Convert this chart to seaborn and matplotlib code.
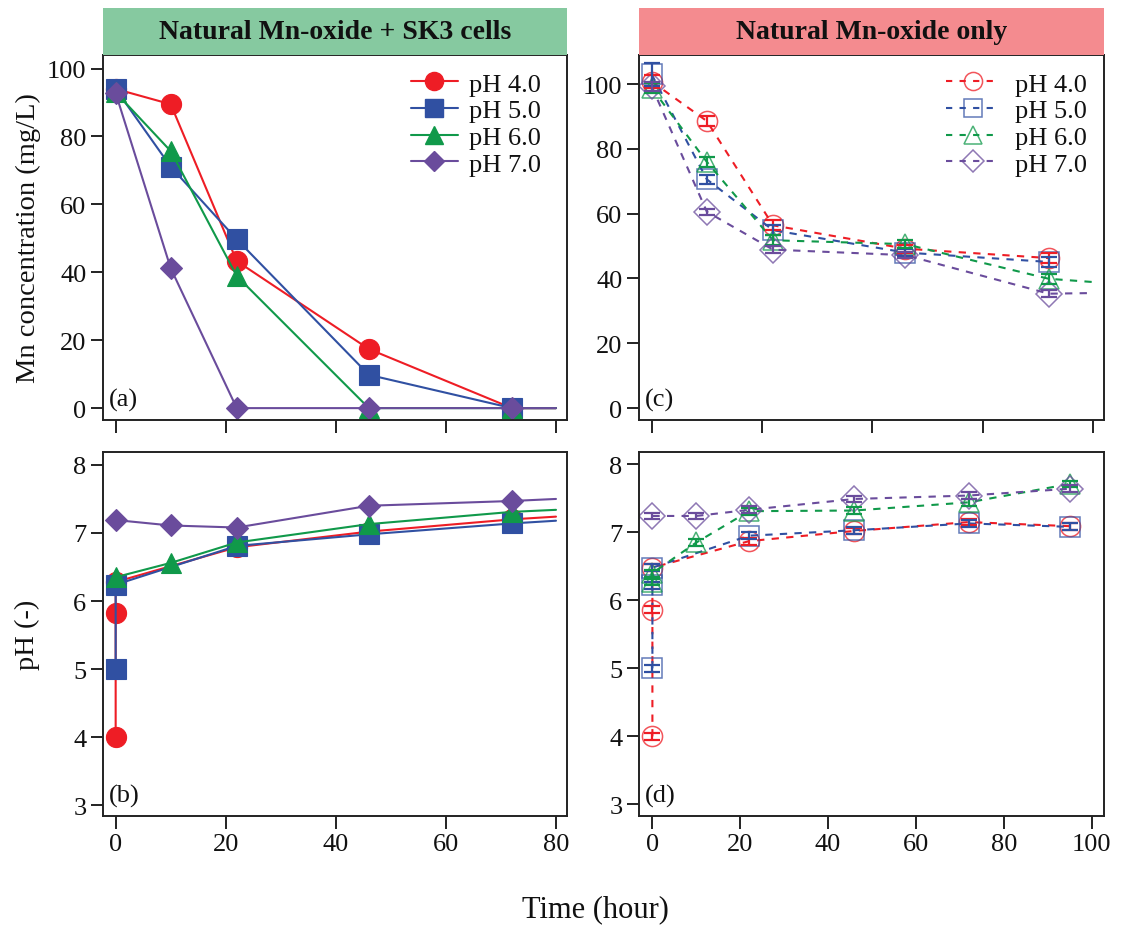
import matplotlib
matplotlib.use("Agg")
import matplotlib.pyplot as plt
from matplotlib.lines import Line2D
import seaborn as sns
import pandas as pd

# ---------------- data ----------------
series_labels = ["pH 4.0", "pH 5.0", "pH 6.0", "pH 7.0"]
series_colors = ["#EE1D25", "#3050A2", "#10994A", "#6A4C9C"]
series_markers = ["o", "s", "^", "D"]

# (a) Mn with SK3 cells
cells_mn_time = [0, 10, 22, 46, 72]
cells_mn_ph4 = [94.0, 89.5, 43.3, 17.4, 0.0]
cells_mn_ph5 = [94.0, 71.1, 49.7, 9.8, 0.0]
cells_mn_ph6 = [93.0, 75.7, 38.9, 0.0, 0.0]
cells_mn_ph7 = [92.8, 41.2, 0.0, 0.0, 0.0]
cells_mn_tail = [0.0, 0.0, 0.0, 0.0]          # line continuation at 80 h

# (b) pH with SK3 cells
cells_ph_time_ph4 = [0, 0, 0, 22, 46, 72]
cells_ph_ph4 = [4.0, 5.83, 6.28, 6.79, 7.02, 7.20]
cells_ph_time_ph5 = [0, 0, 22, 46, 72]
cells_ph_ph5 = [5.0, 6.24, 6.81, 6.98, 7.14]
cells_ph_time_ph6 = [0, 10, 22, 46, 72]
cells_ph_ph6 = [6.35, 6.56, 6.86, 7.13, 7.31]
cells_ph_time_ph7 = [0, 10, 22, 46, 72]
cells_ph_ph7 = [7.19, 7.11, 7.08, 7.40, 7.47]
cells_ph_tail = [7.24, 7.18, 7.34, 7.50]      # line continuation at 80 h

# (c) Mn with oxide only
oxide_mn_time = [0, 10, 22, 46, 72]
oxide_mn_ph4 = [100.8, 88.6, 56.4, 49.2, 46.3]
oxide_mn_ph5 = [103.0, 70.6, 54.9, 48.0, 45.1]
oxide_mn_ph6 = [98.8, 76.0, 51.8, 50.6, 39.9]
oxide_mn_ph7 = [99.3, 60.6, 48.9, 47.2, 35.3]
oxide_mn_err_ph4 = [2.0, 1.5, 1.5, 1.2, 1.5]
oxide_mn_err_ph5 = [3.5, 1.5, 1.5, 1.2, 1.5]
oxide_mn_err_ph6 = [1.5, 1.5, 1.5, 1.2, 1.5]
oxide_mn_err_ph7 = [1.5, 1.0, 1.0, 1.0, 1.0]
oxide_mn_tail = [None, None, 38.9, 35.5]      # line continuation at 80 h

# (d) pH with oxide only
oxide_ph_time_ph4 = [0, 0, 0, 22, 46, 72, 95]
oxide_ph_ph4 = [4.0, 5.86, 6.48, 6.87, 7.02, 7.15, 7.09]
oxide_ph_time_ph5 = [0, 0, 0, 22, 46, 72, 95]
oxide_ph_ph5 = [5.0, 6.22, 6.48, 6.95, 7.03, 7.13, 7.08]
oxide_ph_time_ph6 = [0, 0, 10, 22, 46, 72, 95]
oxide_ph_ph6 = [6.27, 6.40, 6.85, 7.31, 7.32, 7.44, 7.71]
oxide_ph_time_ph7 = [0, 10, 22, 46, 72, 95]
oxide_ph_ph7 = [7.24, 7.24, 7.33, 7.49, 7.54, 7.64]
oxide_ph_err = 0.05

header_left = "Natural Mn-oxide + SK3 cells"
header_right = "Natural Mn-oxide only"

# ---------------- style ----------------
sns.set_theme(style="ticks")
plt.rcParams["font.family"] = ["Liberation Serif", "DejaVu Serif"]
plt.rcParams["axes.linewidth"] = 1.4
plt.rcParams["axes.edgecolor"] = "#222222"
plt.rcParams["text.color"] = "#111111"
plt.rcParams["axes.labelcolor"] = "#111111"
plt.rcParams["xtick.color"] = "#111111"
plt.rcParams["ytick.color"] = "#111111"

W, H = 1125, 929
fig = plt.figure(figsize=(W / 100, H / 100), dpi=100)


def frac_box(x0, y0, x1, y1):
    return [x0 / W, 1 - y1 / H, (x1 - x0) / W, (y1 - y0) / H]


ax_a = fig.add_axes(frac_box(103, 56, 567, 421))
ax_b = fig.add_axes(frac_box(103, 453, 567, 817))
ax_c = fig.add_axes(frac_box(639, 56, 1104, 421))
ax_d = fig.add_axes(frac_box(639, 453, 1104, 817))

MS = {"o": 14.5, "s": 14.5, "^": 14, "D": 11.5}
MS_OPEN = {"o": 14.5, "s": 14.5, "^": 15, "D": 13}


def draw_series(ax, t, v, color, marker, filled, tail_x=None, tail_y=None, yerr=None):
    n = len(t)
    tt = list(t)
    vv = list(v)
    if tail_x is not None and tail_y is not None:
        tt.append(tail_x)
        vv.append(tail_y)
    df = pd.DataFrame({"t": tt, "v": vv})
    kws = dict(
        marker=marker,
        markevery=list(range(n)),
        linewidth=1.5,
    )
    if filled:
        kws.update(markersize=MS[marker], markerfacecolor=color,
                   markeredgecolor=color, markeredgewidth=0.8)
    else:
        kws.update(markersize=MS_OPEN[marker], markerfacecolor="none",
                   markeredgecolor=color + "C0", markeredgewidth=1.1,
                   linestyle=(0, (3.5, 3.5)))
    sns.lineplot(data=df, x="t", y="v", ax=ax, color=color, estimator=None,
                 sort=False, legend=False, **kws)
    if yerr is not None:
        ax.errorbar(t, v, yerr=yerr, fmt="none", ecolor=color, elinewidth=1.6,
                    capsize=6, capthick=1.6, zorder=3)


# (a)
for i, vals in enumerate([cells_mn_ph4, cells_mn_ph5, cells_mn_ph6, cells_mn_ph7]):
    draw_series(ax_a, cells_mn_time, vals, series_colors[i], series_markers[i], True,
                80, cells_mn_tail[i])

# (b)
b_sets = [(cells_ph_time_ph4, cells_ph_ph4), (cells_ph_time_ph5, cells_ph_ph5),
          (cells_ph_time_ph6, cells_ph_ph6), (cells_ph_time_ph7, cells_ph_ph7)]
for i, (t, vals) in enumerate(b_sets):
    draw_series(ax_b, t, vals, series_colors[i], series_markers[i], True,
                80, cells_ph_tail[i])

# (c)
c_sets = [(oxide_mn_ph4, oxide_mn_err_ph4), (oxide_mn_ph5, oxide_mn_err_ph5),
          (oxide_mn_ph6, oxide_mn_err_ph6), (oxide_mn_ph7, oxide_mn_err_ph7)]
for i, (vals, err) in enumerate(c_sets):
    draw_series(ax_c, oxide_mn_time, vals, series_colors[i], series_markers[i], False,
                80, oxide_mn_tail[i], yerr=err)

# (d)
d_sets = [(oxide_ph_time_ph4, oxide_ph_ph4), (oxide_ph_time_ph5, oxide_ph_ph5),
          (oxide_ph_time_ph6, oxide_ph_ph6), (oxide_ph_time_ph7, oxide_ph_ph7)]
for i, (t, vals) in enumerate(d_sets):
    draw_series(ax_d, t, vals, series_colors[i], series_markers[i], False,
                yerr=[oxide_ph_err] * len(vals))

# ---------------- axes ----------------
FS = 19
for ax in (ax_a, ax_b, ax_c, ax_d):
    ax.set_xlabel("")
    ax.set_ylabel("")
    for s in ax.spines.values():
        s.set_visible(True)
        s.set_linewidth(1.4)
        s.set_color("#222222")
    ax.tick_params(direction="out", length=9, width=1.3, colors="#111111",
                   labelsize=FS, pad=3, top=False, right=False)
    ax.set_facecolor("white")

ax_a.set_xlim(-2.3, 82)
ax_b.set_xlim(-2.3, 82)
ax_c.set_xlim(-2.3, 82)
ax_d.set_xlim(-3.05, 102.8)

ax_a.set_ylim(-3.5, 104)
ax_c.set_ylim(-3.7, 109)
ax_b.set_ylim(2.84, 8.19)
ax_d.set_ylim(2.83, 8.18)

for ax in (ax_a, ax_b, ax_c):
    ax.set_xticks([0, 20, 40, 60, 80])
ax_d.set_xticks([0, 20, 40, 60, 80, 100])
ax_a.set_xticklabels([])
ax_c.set_xticklabels([])
for ax in (ax_a, ax_c):
    ax.set_yticks([0, 20, 40, 60, 80, 100])
for ax in (ax_b, ax_d):
    ax.set_yticks([3, 4, 5, 6, 7, 8])

ax_a.set_ylabel("Mn concentration (mg/L)", fontsize=20.5, labelpad=4)
ax_b.set_ylabel("pH (-)", fontsize=20.5, labelpad=24)
fig.text(595 / W, 1 - 910 / H, "Time (hour)", ha="center", va="center", fontsize=22)

for ax, tag in zip((ax_a, ax_b, ax_c, ax_d), ("(a)", "(b)", "(c)", "(d)")):
    ax.text(0.012, 0.025, tag, transform=ax.transAxes, ha="left", va="bottom",
            fontsize=FS)

# legends
solid_handles = [Line2D([], [], color=c, marker=m, markersize=MS[m] * 0.9,
                        markerfacecolor=c, markeredgecolor=c, linewidth=1.5)
                 for c, m in zip(series_colors, series_markers)]
open_handles = [Line2D([], [], color=c, marker=m, markersize=MS_OPEN[m] * 0.9,
                       markerfacecolor="none", markeredgecolor=c + "C0",
                       markeredgewidth=1.1, linewidth=1.5, linestyle=(0, (3, 3.5)))
                for c, m in zip(series_colors, series_markers)]
ax_a.legend(solid_handles, series_labels, loc="upper right", frameon=False, fontsize=FS,
            handlelength=1.8, handletextpad=0.4, labelspacing=0.12,
            borderaxespad=0.25, bbox_to_anchor=(0.98, 1.0))
ax_c.legend(open_handles, series_labels, loc="upper right", frameon=False, fontsize=FS,
            handlelength=2.0, handletextpad=0.6, labelspacing=0.12,
            borderaxespad=0.25, bbox_to_anchor=(1.0, 1.0))

# headers
for box, color, text in ((frac_box(103, 9, 567, 56), "#86C9A0", header_left),
                         (frac_box(639, 9, 1104, 56), "#F48B8F", header_right)):
    hax = fig.add_axes(box)
    hax.set_facecolor(color)
    hax.set_xticks([])
    hax.set_yticks([])
    for s in hax.spines.values():
        s.set_visible(False)
    hax.text(0.5, 0.5, text, ha="center", va="center", fontsize=20,
             fontweight="bold", transform=hax.transAxes)

fig.savefig("out.png", dpi=100)
